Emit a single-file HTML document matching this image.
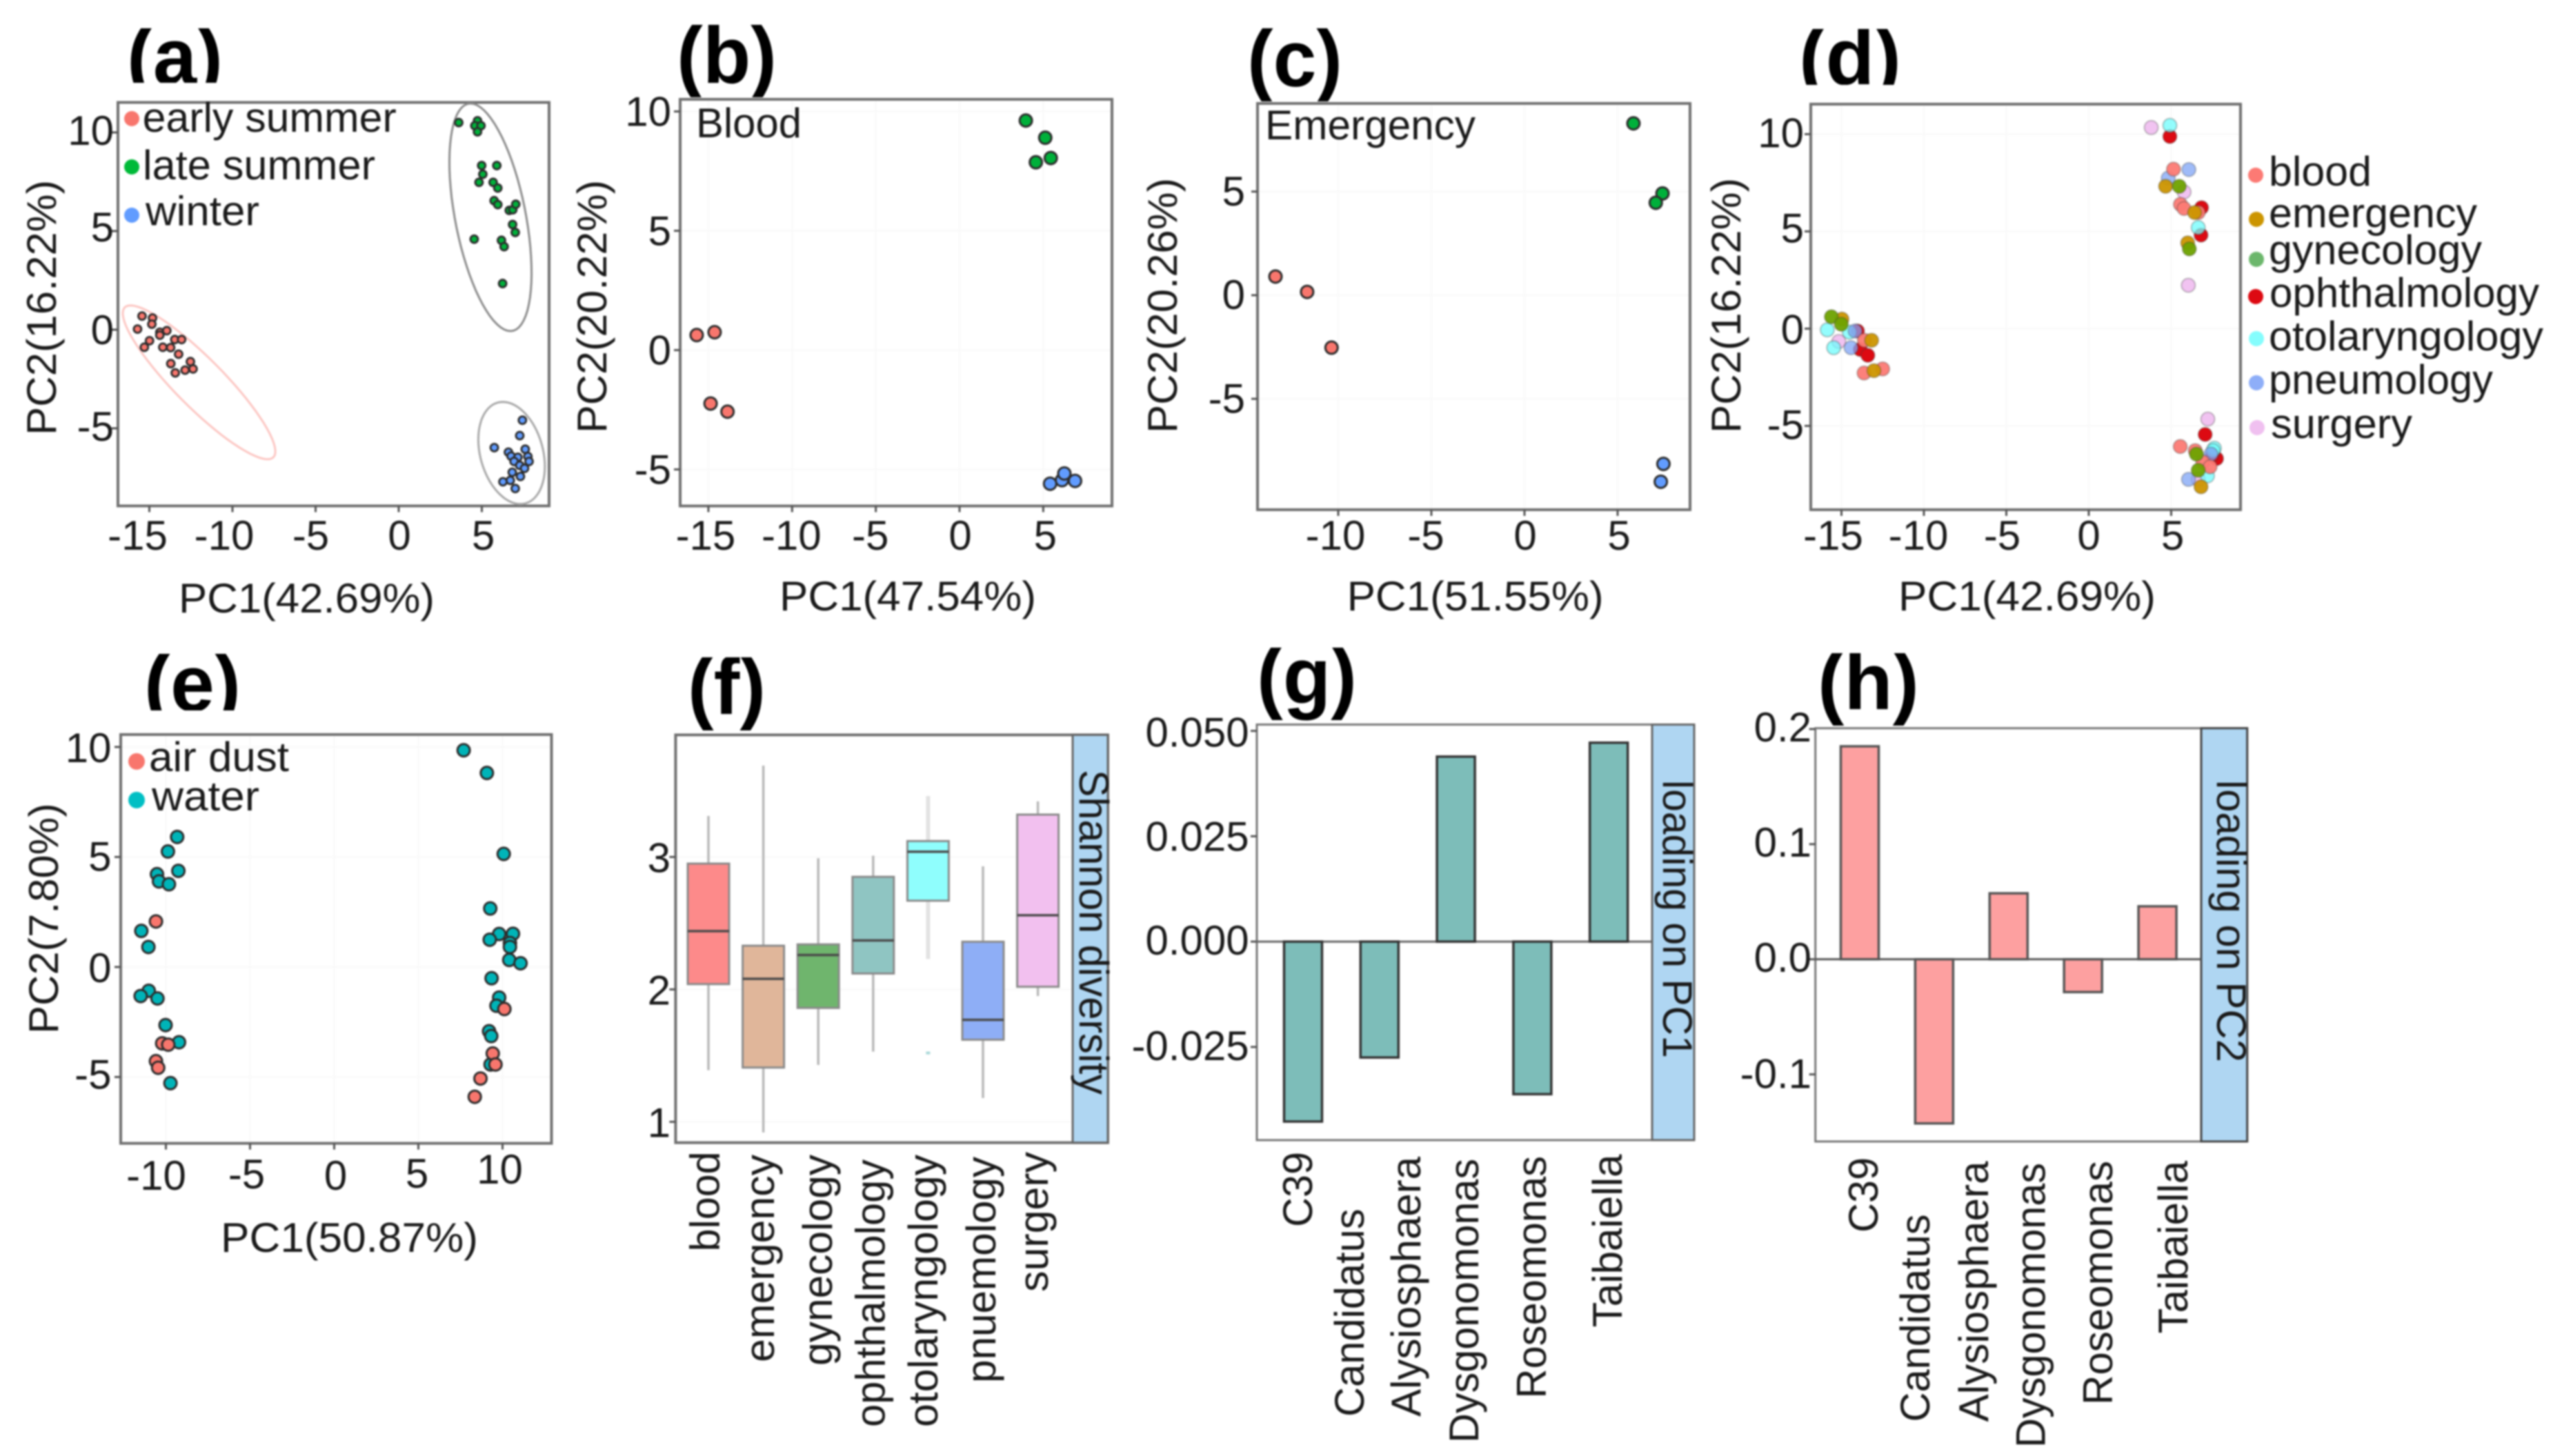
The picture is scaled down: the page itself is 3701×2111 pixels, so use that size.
<!DOCTYPE html>
<html lang="en">
<head>
<meta charset="utf-8">
<title>PCA, diversity and loading panels</title>
<style>
html,body{margin:0;padding:0;background:#fff;}
body{width:3701px;height:2111px;overflow:hidden;}
svg{display:block;filter:blur(1.2px);}
text{font-family:"Liberation Sans",Arial,sans-serif;font-size:60px;fill:#1a1a1a;}
.tag{font-weight:700;font-size:116px;fill:#000;}
.frame{fill:none;stroke:#707070;stroke-width:4;}
.thin{stroke:#777;stroke-width:3;}
.strip{fill:#afd6f2;stroke:#666;stroke-width:3;}
</style>
</head>
<body>
<svg id="figure" xmlns="http://www.w3.org/2000/svg" width="3701" height="2111" viewBox="0 0 3701 2111">
<defs>
<clipPath id="clip-a"><rect x="170" y="41" width="170" height="79"/></clipPath>
<clipPath id="clip-b"><rect x="970" y="35" width="170" height="106"/></clipPath>
<clipPath id="clip-c"><rect x="1800" y="41" width="160" height="106"/></clipPath>
<clipPath id="clip-d"><rect x="2600" y="42" width="170" height="81"/></clipPath>
<clipPath id="clip-e"><rect x="200" y="948" width="160" height="82"/></clipPath>
<clipPath id="clip-f"><rect x="990" y="953" width="130" height="107"/></clipPath>
<clipPath id="clip-g"><rect x="1815" y="939" width="160" height="108"/></clipPath>
<clipPath id="clip-h"><rect x="2625" y="947" width="170" height="107"/></clipPath>
</defs>
<rect width="3701" height="2111" fill="#fff"/>

<text class="tag" clip-path="url(#clip-a)" x="184" y="122" textLength="139" lengthAdjust="spacingAndGlyphs">(a)</text>
<text class="tag" clip-path="url(#clip-b)" x="981" y="120" textLength="145" lengthAdjust="spacingAndGlyphs">(b)</text>
<text class="tag" clip-path="url(#clip-c)" x="1808" y="125" textLength="138" lengthAdjust="spacingAndGlyphs">(c)</text>
<text class="tag" clip-path="url(#clip-d)" x="2608" y="122" textLength="148" lengthAdjust="spacingAndGlyphs">(d)</text>
<text class="tag" clip-path="url(#clip-e)" x="209" y="1031" textLength="140" lengthAdjust="spacingAndGlyphs">(e)</text>
<text class="tag" clip-path="url(#clip-f)" x="997" y="1035" textLength="113" lengthAdjust="spacingAndGlyphs">(f)</text>
<text class="tag" clip-path="url(#clip-g)" x="1822" y="1020" textLength="145" lengthAdjust="spacingAndGlyphs">(g)</text>
<text class="tag" clip-path="url(#clip-h)" x="2635" y="1028" textLength="147" lengthAdjust="spacingAndGlyphs">(h)</text>

<g id="grid-layer"></g>

<rect class="frame" x="171" y="148.5" width="625" height="585"/>
<rect class="frame" x="986" y="144" width="626" height="589.6"/>
<rect class="frame" x="1823" y="150" width="627" height="589"/>
<rect class="frame" x="2625" y="151" width="623" height="588"/>
<rect class="frame" x="175" y="1065" width="624.5" height="592.7"/>
<rect class="frame" x="979.4" y="1065.5" width="626.6" height="591.2"/>
<rect class="frame thin" x="1822" y="1050.5" width="634" height="602.5"/>
<rect class="frame thin" x="2631.7" y="1055.8" width="626" height="599.2"/>

<rect class="strip" x="1555" y="1065.5" width="51" height="591.2"/>
<rect class="strip" x="2395" y="1050.5" width="61" height="602.5"/>
<rect class="strip" style="stroke:#444" x="3191" y="1055.8" width="66.7" height="599.2"/>
<text transform="translate(1565,1116) rotate(90)" textLength="471" lengthAdjust="spacingAndGlyphs">Shannon diversity</text>
<text transform="translate(2411,1131) rotate(90)" textLength="403" lengthAdjust="spacingAndGlyphs">loading on PC1</text>
<text transform="translate(3214,1131) rotate(90)" textLength="409" lengthAdjust="spacingAndGlyphs">loading on PC2</text>

<text x="259" y="888" textLength="371" lengthAdjust="spacingAndGlyphs">PC1(42.69%)</text>
<text x="1130" y="885" textLength="372" lengthAdjust="spacingAndGlyphs">PC1(47.54%)</text>
<text x="1952.6" y="885" textLength="372" lengthAdjust="spacingAndGlyphs">PC1(51.55%)</text>
<text x="2752" y="885" textLength="373" lengthAdjust="spacingAndGlyphs">PC1(42.69%)</text>
<text x="320" y="1815" textLength="373" lengthAdjust="spacingAndGlyphs">PC1(50.87%)</text>

<text transform="translate(81,631) rotate(-90)" textLength="370" lengthAdjust="spacingAndGlyphs">PC2(16.22%)</text>
<text transform="translate(879,628) rotate(-90)" textLength="367" lengthAdjust="spacingAndGlyphs">PC2(20.22%)</text>
<text transform="translate(1706,628) rotate(-90)" textLength="370" lengthAdjust="spacingAndGlyphs">PC2(20.26%)</text>
<text transform="translate(2523,628) rotate(-90)" textLength="370" lengthAdjust="spacingAndGlyphs">PC2(16.22%)</text>
<text transform="translate(84,1499) rotate(-90)" textLength="334.6" lengthAdjust="spacingAndGlyphs">PC2(7.80%)</text>

<g>
<circle cx="191" cy="172" r="11" fill="#f8766d"/>
<text x="206.7" y="191" textLength="368" lengthAdjust="spacingAndGlyphs">early summer</text>
<circle cx="191" cy="242" r="11" fill="#00ba38"/>
<text x="207" y="260" textLength="337" lengthAdjust="spacingAndGlyphs">late summer</text>
<circle cx="191" cy="312" r="11" fill="#619cff"/>
<text x="211" y="326.5" textLength="165" lengthAdjust="spacingAndGlyphs">winter</text>
</g>

<text x="1009" y="199" textLength="153" lengthAdjust="spacingAndGlyphs">Blood</text>
<text x="1834" y="202" textLength="305" lengthAdjust="spacingAndGlyphs">Emergency</text>

<g>
<circle cx="3270" cy="254" r="11" fill="#fc7a74"/>
<text x="3289" y="269" textLength="149" lengthAdjust="spacingAndGlyphs">blood</text>
<circle cx="3271" cy="318" r="11" fill="#cc9500"/>
<text x="3289" y="329.5" textLength="302" lengthAdjust="spacingAndGlyphs">emergency</text>
<circle cx="3271" cy="376" r="11" fill="#6cb76c"/>
<text x="3289" y="383" textLength="309" lengthAdjust="spacingAndGlyphs">gynecology</text>
<circle cx="3270" cy="430" r="11" fill="#dd0a12"/>
<text x="3290" y="445" textLength="391" lengthAdjust="spacingAndGlyphs">ophthalmology</text>
<circle cx="3271" cy="491" r="11" fill="#85fdfd"/>
<text x="3289" y="508" textLength="398" lengthAdjust="spacingAndGlyphs">otolaryngology</text>
<circle cx="3271" cy="555" r="11" fill="#8eaef8"/>
<text x="3289" y="571" textLength="325" lengthAdjust="spacingAndGlyphs">pneumology</text>
<circle cx="3272" cy="620" r="11" fill="#f0c0f0"/>
<text x="3292" y="635" textLength="205" lengthAdjust="spacingAndGlyphs">surgery</text>
</g>

<g>
<circle cx="198" cy="1104" r="12" fill="#f8766d"/>
<text x="216" y="1118" textLength="203" lengthAdjust="spacingAndGlyphs">air dust</text>
<circle cx="198" cy="1160" r="12" fill="#00bfc4"/>
<text x="220" y="1175" textLength="156" lengthAdjust="spacingAndGlyphs">water</text>
</g>

<g>
<text transform="translate(1042.5,1814.5) rotate(-90)" textLength="145" lengthAdjust="spacingAndGlyphs">blood</text>
<text transform="translate(1122,1975) rotate(-90)" textLength="301" lengthAdjust="spacingAndGlyphs">emergency</text>
<text transform="translate(1206,1980) rotate(-90)" textLength="306" lengthAdjust="spacingAndGlyphs">gynecology</text>
<text transform="translate(1282.6,2069) rotate(-90)" textLength="388" lengthAdjust="spacingAndGlyphs">ophthalmology</text>
<text transform="translate(1359,2069) rotate(-90)" textLength="395" lengthAdjust="spacingAndGlyphs">otolaryngology</text>
<text transform="translate(1442.8,2005) rotate(-90)" textLength="328" lengthAdjust="spacingAndGlyphs">pnuemology</text>
<text transform="translate(1519,1873) rotate(-90)" textLength="203" lengthAdjust="spacingAndGlyphs">surgery</text>
</g>

<g>
<text transform="translate(1902,1779) rotate(-90)" textLength="109" lengthAdjust="spacingAndGlyphs">C39</text>
<text transform="translate(1977,2054) rotate(-90)" textLength="301.5" lengthAdjust="spacingAndGlyphs">Candidatus</text>
<text transform="translate(2059,2054) rotate(-90)" textLength="377" lengthAdjust="spacingAndGlyphs">Alysiosphaera</text>
<text transform="translate(2143,2092) rotate(-90)" textLength="412" lengthAdjust="spacingAndGlyphs">Dysgonomonas</text>
<text transform="translate(2241,2027.6) rotate(-90)" textLength="351.6" lengthAdjust="spacingAndGlyphs">Roseomonas</text>
<text transform="translate(2351,1924.5) rotate(-90)" textLength="251" lengthAdjust="spacingAndGlyphs">Taibaiella</text>
</g>

<g>
<text transform="translate(2722,1787) rotate(-90)" textLength="109" lengthAdjust="spacingAndGlyphs">C39</text>
<text transform="translate(2797,2061.5) rotate(-90)" textLength="301" lengthAdjust="spacingAndGlyphs">Candidatus</text>
<text transform="translate(2882,2061.5) rotate(-90)" textLength="378" lengthAdjust="spacingAndGlyphs">Alysiosphaera</text>
<text transform="translate(2964.5,2099) rotate(-90)" textLength="413" lengthAdjust="spacingAndGlyphs">Dysgonomonas</text>
<text transform="translate(3062,2037) rotate(-90)" textLength="354" lengthAdjust="spacingAndGlyphs">Roseomonas</text>
<text transform="translate(3171,1933.5) rotate(-90)" textLength="250.5" lengthAdjust="spacingAndGlyphs">Taibaiella</text>
</g>

<g id="marks-layer"></g>
</svg>

<script>
// ---- Panel (a): season PCA ----
const aEarlyX = [-15.44,-14.81,-14.85,-15.71,-14.37,-13.95,-14.37,-13.47,-13.06,-14.99,-15.30,-14.19,-13.72,-13.24,-13.71,-12.53,-12.37,-12.85,-13.44];
const aEarlyY = [0.69,0.59,0.28,0.03,-0.13,-0.05,-0.28,-0.50,-0.50,-0.56,-0.89,-0.89,-0.91,-1.24,-1.72,-1.62,-1.99,-2.05,-2.19];
const aLateX = [3.61,4.74,4.58,4.95,4.74,4.99,5.90,5.06,4.83,5.68,5.96,5.74,5.96,6.65,6.86,7.04,6.85,7.01,4.54,6.18,6.34,6.25];
const aLateY = [10.50,10.59,10.34,10.34,10.03,8.32,8.32,7.88,7.47,7.47,7.18,6.54,6.34,6.05,6.08,6.36,5.33,4.93,4.59,4.53,4.21,2.34];
const aWinterX = [7.44,7.28,5.75,6.60,6.76,7.61,7.77,7.17,6.94,7.84,7.28,7.57,6.83,7.32,6.71,6.27,7.01];
const aWinterY = [-4.59,-5.37,-5.98,-6.21,-6.41,-6.06,-6.43,-6.47,-6.68,-6.68,-6.88,-7.03,-7.23,-7.44,-7.64,-7.71,-8.05];
// ellipse centre and two conjugate semi-axes, in data units
const aEarlyEllipse = [-12.01,-2.67,4.47,-3.80,1.04,0.87];
const aLateEllipse = [5.52,5.70,1.20,-5.77,2.16,0];
const aWinterEllipse = [6.79,-6.25,-0.527,2.59,1.93,0];
const aXTicks = [-15,-10,-5,0,5];
const aYTicks = [10,5,0,-5];

// ---- Panel (b): Blood ----
const bEarlyX = [-15.70,-14.63,-14.87,-13.86];
const bEarlyY = [0.63,0.75,-2.24,-2.58];
const bLateX = [3.96,5.12,4.56,5.45];
const bLateY = [9.62,8.90,7.87,8.05];
const bWinterX = [5.41,6.12,6.26,6.90];
const bWinterY = [-5.60,-5.45,-5.17,-5.48];
const bXTicks = [-15,-10,-5,0,5];
const bYTicks = [10,5,0,-5];

// ---- Panel (c): Emergency ----
const cEarlyX = [-13.37,-11.67,-10.36];
const cEarlyY = [0.90,0.16,-2.53];
const cLateX = [5.85,7.41,7.05];
const cLateY = [8.29,4.91,4.46];
const cWinterX = [7.46,7.32];
const cWinterY = [-8.14,-9.00];
const cXTicks = [-10,-5,0,5];
const cYTicks = [5,0,-5];

// ---- Panel (d): departments ----
const dSurgeryX = [3.79,5.78,6.04,-15.16,7.22,6.64];
const dSurgeryY = [10.34,7.03,2.23,-0.66,-4.65,-7.75];
const dOtoX = [4.92,6.64,-15.86,-14.52,-15.47,7.62,7.54,7.20];
const dOtoY = [10.45,5.20,-0.06,-0.18,-0.98,-6.15,-6.27,-7.57];
const dOphthX = [4.92,6.84,6.81,-14.03,-13.86,-13.40,7.06,7.75,7.50];
const dOphthY = [9.88,6.22,4.81,-0.12,-1.07,-1.37,-5.44,-6.68,-6.51];
const dPneuX = [6.07,4.82,-14.17,-14.42,7.41,6.05];
const dPneuY = [8.18,7.74,-0.12,-0.98,-6.45,-7.75];
const dBloodX = [5.14,5.56,5.78,6.64,-13.61,-13.63,-12.50,5.55,6.46,6.92,7.36];
const dBloodY = [8.20,6.39,6.18,5.97,-0.60,-2.28,-2.07,-6.06,-6.27,-6.86,-7.10];
const dEmergencyX = [4.66,6.42,6.00,-14.97,-13.17,-13.03,6.81];
const dEmergencyY = [7.32,5.97,4.41,0.49,-0.60,-2.16,-8.13];
const dGynX = [5.49,6.10,-15.61,-15.01,6.53,6.64];
const dGynY = [7.32,4.10,0.61,0.23,-6.45,-7.28];
const dXTicks = [-15,-10,-5,0,5];
const dYTicks = [10,5,0,-5];

// ---- Panel (e): air dust vs water ----
const eWaterX = [-9.33,-9.88,-10.53,-9.26,-10.41,-9.82,-11.46,-11.04,-11.02,-11.50,-10.50,-10.02,-9.22,-9.73,7.69,9.07,10.07,9.27,9.80,9.24,10.62,10.44,10.44,10.40,11.07,9.35,9.80,9.64,9.20,9.33,9.29];
const eWaterY = [5.91,5.25,4.22,4.37,3.89,3.76,1.64,0.91,-1.08,-1.32,-1.43,-2.64,-3.42,-5.28,9.85,8.82,5.14,2.66,1.50,1.24,1.51,1.09,0.91,0.32,0.17,-0.51,-1.39,-1.76,-2.92,-3.14,-4.43];
const eDustX = [-10.59,-10.22,-9.86,-10.59,-10.46,10.11,9.42,9.58,8.69,8.35];
const eDustY = [2.07,-3.47,-3.53,-4.28,-4.58,-1.91,-3.93,-4.43,-5.07,-5.90];
const eXTicks = [-10,-5,0,5,10];
const eYTicks = [10,5,0,-5];

// ---- Panel (f): Shannon diversity boxplot ----
const fCategories = ['blood','emergency','gynecology','ophthalmology','otolaryngology','pnuemology','surgery'];
const fColors = ['#fd8a8a','#e0b69a','#6fb56d','#8fc5c2','#8ffefd','#8eaef6','#f2c0ef'];
const fWhiskerLow = [1.39,0.92,1.43,1.53,2.23,1.18,1.95];
const fQ1 = [2.04,1.41,1.86,2.12,2.67,1.62,2.02];
const fMedian = [2.44,2.08,2.26,2.37,3.04,1.77,2.56];
const fQ3 = [2.95,2.33,2.34,2.85,3.12,2.36,3.32];
const fWhiskerHigh = [3.31,3.69,2.99,3.01,3.46,2.93,3.42];
const fOutlierCategory = [4];
const fOutlierValue = [1.52];
const fYTicks = [3,2,1];

// ---- Panels (g) and (h): loadings ----
const loadingCategories = ['C39','Candidatus Alysiosphaera','Dysgonomonas','Roseomonas','Taibaiella'];
const gValues = [-0.0427,-0.0275,0.0439,-0.0362,0.0472];
const gYTicks = [0.05,0.025,0,-0.025];
const gYTickLabels = ['0.050','0.025','0.000','-0.025'];
const hValues = [0.185,-0.1426,0.0573,-0.0285,0.046];
const hYTicks = [0.2,0.1,0,-0.1];
const hYTickLabels = ['0.2','0.1','0.0','-0.1'];

const NS = 'http://www.w3.org/2000/svg';
const marks = document.getElementById('marks-layer');
const gridLayer = document.getElementById('grid-layer');

function mk(tag, attrs, parent) {
  const el = document.createElementNS(NS, tag);
  for (const k in attrs) el.setAttribute(k, attrs[k]);
  parent.appendChild(el);
  return el;
}
function linear(origin, unit) {
  return function (v) { return origin + v * unit; };
}
function drawXAxis(panel, sx, ticks, labels, offsets, baseline, axisY, dys) {
  ticks.forEach(function (t, i) {
    const tick = mk('line', {x1: sx(t), x2: sx(t), y1: axisY, y2: axisY + 9, stroke: '#555', 'stroke-width': 3}, marks);
    
    
    const label = mk('text', {x: sx(t) + offsets[i], y: baseline + (dys ? dys[i] : 0), 'text-anchor': 'middle'}, marks);
    label.textContent = labels[i];
    
    
  });
}
function drawYAxis(panel, sy, ticks, labels, axisX, rightEdge, dy, dys) {
  ticks.forEach(function (t, i) {
    const tick = mk('line', {x1: axisX - 9, x2: axisX, y1: sy(t), y2: sy(t), stroke: '#555', 'stroke-width': 3}, marks);
    
    
    const label = mk('text', {x: rightEdge, y: sy(t) + dy + (dys ? dys[i] : 0), 'text-anchor': 'end'}, marks);
    label.textContent = labels[i];
    
    
  });
}
function drawGrid(panel, sx, sy, xTicks, yTicks, x1, x2, y1, y2) {
  (xTicks || []).forEach(function (t) {
    const g = mk('line', {x1: sx(t), x2: sx(t), y1: y1, y2: y2, stroke: '#fafafa', 'stroke-width': 3}, gridLayer);
    
    
  });
  yTicks.forEach(function (t) {
    const g = mk('line', {x1: x1, x2: x2, y1: sy(t), y2: sy(t), stroke: '#fafafa', 'stroke-width': 3}, gridLayer);
    
    
  });
}
function drawPoints(series, xs, ys, sx, sy, r, fill, stroke, sw, opacity) {
  xs.forEach(function (x, i) {
    const c = mk('circle', {cx: sx(x), cy: sy(ys[i]), r: r, fill: fill, stroke: stroke, 'stroke-width': sw, 'fill-opacity': opacity}, marks);
    
    
  });
}
function drawEllipse(series, params, sx, sy, stroke) {
  const cx = params[0], cy = params[1], ux = params[2], uy = params[3], vx = params[4], vy = params[5];
  let d = '';
  for (let k = 0; k <= 72; k++) {
    const a = k / 72 * 2 * Math.PI;
    const px = sx(cx + Math.cos(a) * ux + Math.sin(a) * vx);
    const py = sy(cy + Math.cos(a) * uy + Math.sin(a) * vy);
    d += (k ? 'L' : 'M') + px.toFixed(1) + ' ' + py.toFixed(1);
  }
  const e = mk('path', {d: d + 'Z', fill: 'none', stroke: stroke, 'stroke-width': 3}, marks);
  
  
}
function drawBars(panel, values, categories, sx, sy, width, fill, stroke) {
  values.forEach(function (v, i) {
    const top = Math.min(sy(v), sy(0));
    const h = Math.abs(sy(v) - sy(0));
    const bar = mk('rect', {x: sx(i) - width / 2, y: top, width: width, height: h, fill: fill, stroke: stroke, 'stroke-width': 3.5}, marks);
    
    
  });
}

const RED = '#f8766d', GREEN = '#00ba38', BLUE = '#619cff', EDGE = '#2c2c2c';

// panel a
const ax = linear(578, 24.1), ay = linear(478, -28.6);
drawEllipse('early-summer', aEarlyEllipse, ax, ay, '#fcc6c2');
drawEllipse('late-summer', aLateEllipse, ax, ay, '#8c8c8c');
drawEllipse('winter', aWinterEllipse, ax, ay, '#a8a8a8');
drawPoints('early-summer', aEarlyX, aEarlyY, ax, ay, 5.5, RED, EDGE, 2.8, 1);
drawPoints('late-summer', aLateX, aLateY, ax, ay, 5.5, '#00b03a', EDGE, 2.8, 1);
drawPoints('winter', aWinterX, aWinterY, ax, ay, 5.5, BLUE, EDGE, 2.8, 1);
drawXAxis('panel-a', ax, aXTicks, aXTicks.map(String), [-17,-12,-7,1,2], 797, 733.5);
drawYAxis('panel-a', ay, aYTicks, aYTicks.map(String), 171, 165, 18, [0,-3,3,0]);

// panel b
const bx = linear(1391, 24.27), by = linear(507.6, -34.6);
drawGrid('panel-b', bx, by, bXTicks, bYTicks, 988, 1610, 146, 731);
drawPoints('blood-early-summer', bEarlyX, bEarlyY, bx, by, 9, RED, EDGE, 3, 1);
drawPoints('blood-late-summer', bLateX, bLateY, bx, by, 9, '#00b03a', EDGE, 3, 1);
drawPoints('blood-winter', bWinterX, bWinterY, bx, by, 9, BLUE, EDGE, 3, 1);
drawXAxis('panel-b', bx, bXTicks, bXTicks.map(String), [-4,-1,-8,1,3], 797, 733.5);
drawYAxis('panel-b', by, bYTicks, bYTicks.map(String), 986, 973, 21);

// panel c
const cx = linear(2210, 27), cy = linear(428, -30.05);
drawGrid('panel-c', cx, cy, cXTicks, cYTicks, 1825, 2448, 152, 737);
drawPoints('emergency-early-summer', cEarlyX, cEarlyY, cx, cy, 9, RED, EDGE, 3, 1);
drawPoints('emergency-late-summer', cLateX, cLateY, cx, cy, 9, '#00b03a', EDGE, 3, 1);
drawPoints('emergency-winter', cWinterX, cWinterY, cx, cy, 9, BLUE, EDGE, 3, 1);
drawXAxis('panel-c', cx, cXTicks, cXTicks.map(String), [-4,-8,1,2], 797, 739);
drawYAxis('panel-c', cy, cYTicks, cYTicks.map(String), 1823, 1805, 20);

// panel d
const dx = linear(3028, 23.9), dy = linear(476.5, -28.2);
const DEDGE = 'rgba(60,60,60,0.3)';
drawGrid('panel-d', dx, dy, dXTicks, dYTicks, 2627, 3246, 153, 737);
drawPoints('surgery', dSurgeryX, dSurgeryY, dx, dy, 10, '#f0c0f0', DEDGE, 2, 0.95);
drawPoints('ophthalmology', dOphthX, dOphthY, dx, dy, 10, '#dd0a12', DEDGE, 2, 1);
drawPoints('otolaryngology', dOtoX, dOtoY, dx, dy, 10, '#6ffcfc', DEDGE, 2, 0.75);
drawPoints('pneumology', dPneuX, dPneuY, dx, dy, 10, '#7fa4f6', DEDGE, 2, 0.75);
drawPoints('blood', dBloodX, dBloodY, dx, dy, 10, '#fc7a74', DEDGE, 2, 0.95);
drawPoints('emergency', dEmergencyX, dEmergencyY, dx, dy, 10, '#cc9500', DEDGE, 2, 0.95);
drawPoints('gynecology', dGynX, dGynY, dx, dy, 10, '#6ea200', DEDGE, 2, 0.95);
drawXAxis('panel-d', dx, dXTicks, dXTicks.map(String), [-12,-8,-6,0,2], 797, 739);
drawYAxis('panel-d', dy, dYTicks, dYTicks.map(String), 2625, 2615, 19, [0,-3,3,0]);

// panel e
const ex = linear(484.5, 24.4), ey = linear(1402, -31.9);
drawGrid('panel-e', ex, ey, eXTicks, eYTicks, 177, 797, 1067, 1655);
drawPoints('water', eWaterX, eWaterY, ex, ey, 9, '#00b4b8', EDGE, 3, 1);
drawPoints('air-dust', eDustX, eDustY, ex, ey, 9, RED, EDGE, 3, 1);
drawXAxis('panel-e', ex, eXTicks, eXTicks.map(String), [-14,-5,2,-2,-4], 1722, 1657.7, [3,1,3,0,-6]);
drawYAxis('panel-e', ey, eYTicks, eYTicks.map(String), 175, 161.5, 20, [2,0,2,-3]);

// panel f
const fx = linear(1027, 79.6), fy = linear(1818.5, -192);
const fBoxWidth = 60;
drawGrid('panel-f', fx, fy, null, fYTicks, 982, 1553, 0, 0);
fCategories.forEach(function (name, i) {
  const whisker = mk('line', {x1: fx(i), x2: fx(i), y1: fy(fWhiskerHigh[i]), y2: fy(fWhiskerLow[i]), stroke: i === 4 ? '#e2e2e2' : '#b8b8b8', 'stroke-width': i === 4 ? 6 : 3.5}, marks);
  
  
  const box = mk('rect', {x: fx(i) - fBoxWidth / 2, y: fy(fQ3[i]), width: fBoxWidth, height: fy(fQ1[i]) - fy(fQ3[i]), fill: fColors[i], stroke: '#8a8a8a', 'stroke-width': 3}, marks);
  
  
  const median = mk('line', {x1: fx(i) - fBoxWidth / 2, x2: fx(i) + fBoxWidth / 2, y1: fy(fMedian[i]), y2: fy(fMedian[i]), stroke: '#4a4a4a', 'stroke-width': 3.5}, marks);
  
  
});
fOutlierCategory.forEach(function (c, i) {
  const o = mk('rect', {x: fx(c) - 3, y: fy(fOutlierValue[i]) - 2, width: 6, height: 4, fill: '#a8d8d8'}, marks);
  
  
});
drawYAxis('panel-f', fy, fYTicks, fYTicks.map(String), 979.4, 972, 22);

// panel g
const gx = linear(1889, 110.8), gy = linear(1365.2, -6110);
const gZero = mk('line', {x1: 1822, x2: 2395, y1: gy(0), y2: gy(0), stroke: '#666', 'stroke-width': 3}, marks);


drawBars('panel-g', gValues, loadingCategories, gx, gy, 55, '#7dbdb9', '#333');
drawYAxis('panel-g', gy, gYTicks, gYTickLabels, 1822, 1810.6, 19, [4,2,0,0]);

// panel h
const hx = linear(2696, 107.9), hy = linear(1390.8, -1669);
const hZero = mk('line', {x1: 2631.7, x2: 3191, y1: hy(0), y2: hy(0), stroke: '#555', 'stroke-width': 3}, marks);


drawBars('panel-h', hValues, loadingCategories, hx, hy, 55, '#fda0a0', '#555');
drawYAxis('panel-h', hy, hYTicks, hYTickLabels, 2631.7, 2626, 18, [0,0,0,2]);
</script>
</body>
</html>
